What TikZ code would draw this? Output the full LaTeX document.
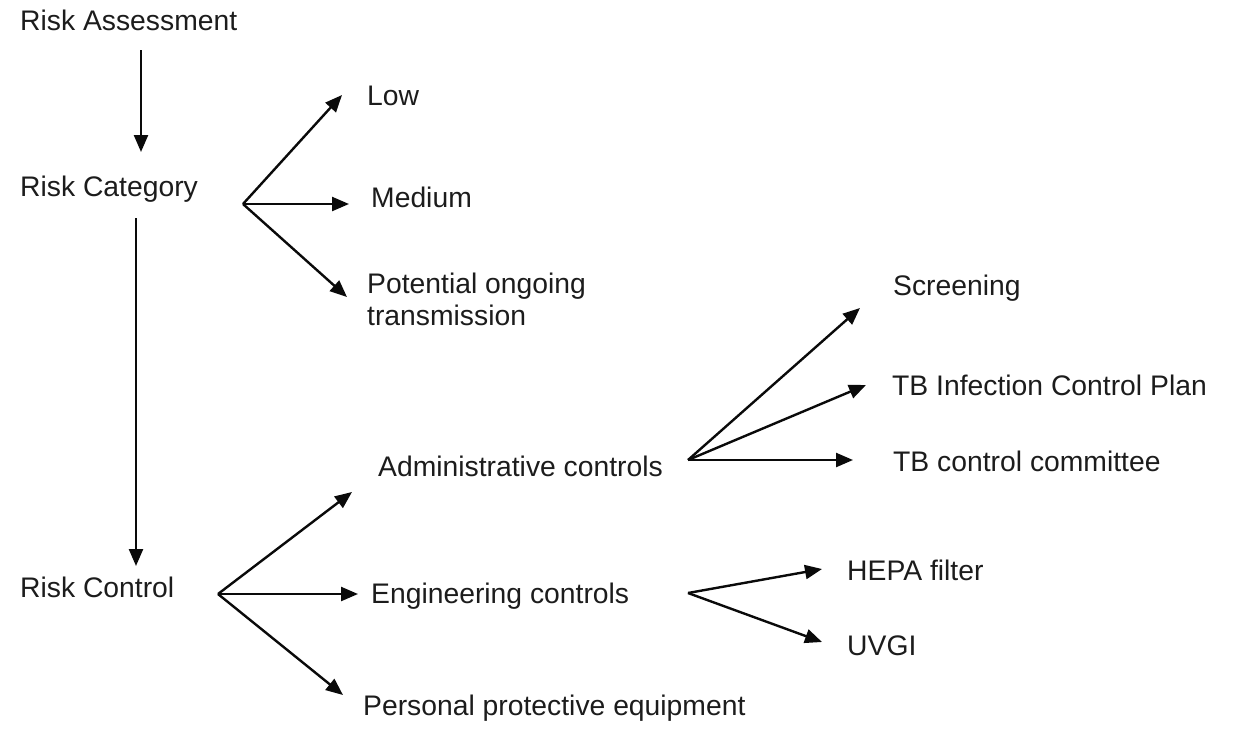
\documentclass[tikz,border=0pt]{standalone}
\usepackage{fontspec}
\setsansfont{Liberation Sans}
\usepackage{xcolor}
\usepackage{tikz}
\usetikzlibrary{arrows.meta}
\definecolor{rkink}{RGB}{28,28,28}
\definecolor{rkedge}{RGB}{10,10,10}
\tikzset{
  lbl/.style={
    anchor=base west, inner sep=0pt, text=rkink, align=left,
    font=\fontsize{28.3}{32}\selectfont\sffamily
  },
  arr/.style={-{Triangle[length=17pt,width=14pt]}, draw=rkedge, line width=2.4pt},
  every picture/.append style={line join=round}
}

\begin{document}
\begin{tikzpicture}[x=1pt, y=-1pt]
  \useasboundingbox (0,0) rectangle (1235,729);

  % left column
  \node[lbl] (rassess) at (20,30) {Risk Assessment};
  \node[lbl] (rcat) at (20,196) {Risk Category};
  \node[lbl] (rctrl) at (20,597) {Risk Control};

  % categories
  \node[lbl] (low) at (367,105) {Low};
  \node[lbl] (medium) at (371,207) {Medium};
  \node[lbl] (potential) at (367,325) {Potential ongoing\\transmission};

  % controls
  \node[lbl] (admin) at (378,476) {Administrative controls};
  \node[lbl] (engin) at (371,603) {Engineering controls};
  \node[lbl] (ppe) at (363,715) {Personal protective equipment};

  \node[lbl] (screen) at (893,295) {Screening};
  \node[lbl] (icplan) at (892,395) {TB Infection Control Plan};
  \node[lbl] (tbcomm) at (893,471) {TB control committee};

  \node[lbl] (hepa) at (847,580) {HEPA filter};
  \node[lbl] (uvgi) at (847,655) {UVGI};

  % fork points and arrow ends
  \coordinate (assessend) at (141,50);
  \coordinate (catin) at (141,152);
  \coordinate (catend) at (136,218);
  \coordinate (ctrlin) at (136,566);
  \coordinate (catfork) at (243,204);
  \coordinate (ctrlfork) at (218,594);
  \coordinate (adminfork) at (688,460);
  \coordinate (enginfork) at (688,593);

  \coordinate (lowin) at (342,95);
  \coordinate (mediumin) at (349,204);
  \coordinate (potentialin) at (347,297);
  \coordinate (adminin) at (352,492);
  \coordinate (enginin) at (358,594);
  \coordinate (ppein) at (343,695);
  \coordinate (screenin) at (860,308);
  \coordinate (icplanin) at (866,385);
  \coordinate (tbcommin) at (853,460);
  \coordinate (hepain) at (822,569);
  \coordinate (uvgiin) at (822,642);

  \draw[arr] (assessend) -- (catin);
  \draw[arr] (catend) -- (ctrlin);

  \draw[arr] (catfork) -- (lowin);
  \draw[arr] (catfork) -- (mediumin);
  \draw[arr] (catfork) -- (potentialin);

  \draw[arr] (ctrlfork) -- (adminin);
  \draw[arr] (ctrlfork) -- (enginin);
  \draw[arr] (ctrlfork) -- (ppein);

  \draw[arr] (adminfork) -- (screenin);
  \draw[arr] (adminfork) -- (icplanin);
  \draw[arr] (adminfork) -- (tbcommin);

  \draw[arr] (enginfork) -- (hepain);
  \draw[arr] (enginfork) -- (uvgiin);
\end{tikzpicture}
\end{document}
